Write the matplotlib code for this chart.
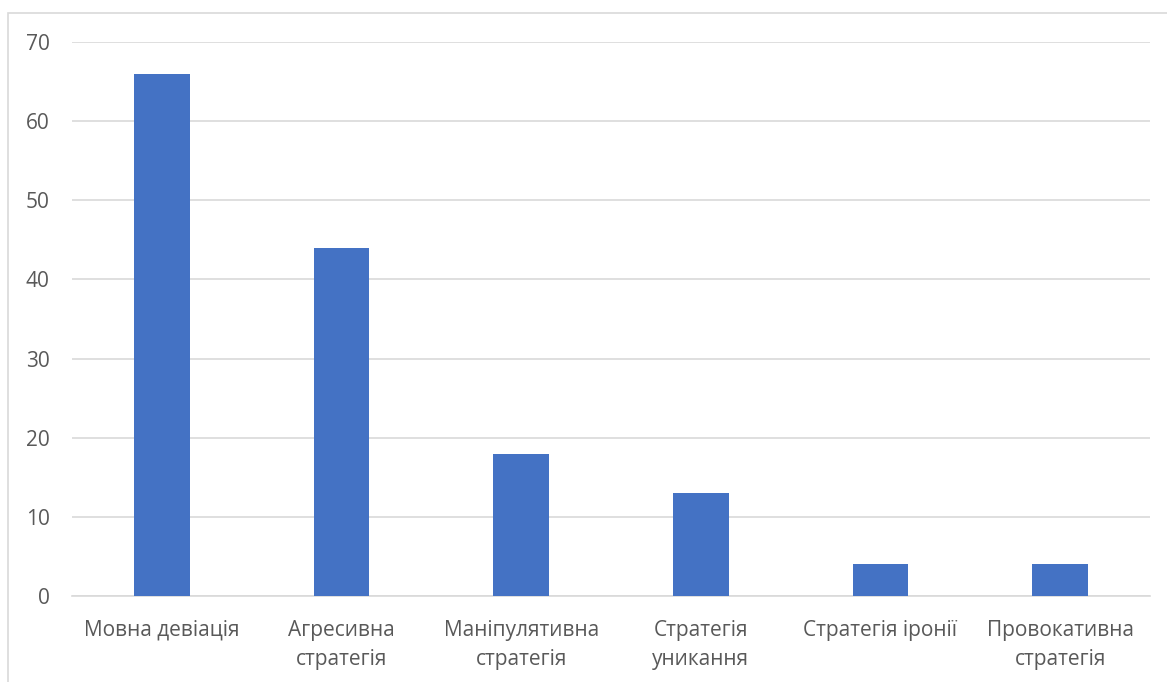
import matplotlib.pyplot as plt
from matplotlib.patches import Rectangle

# Дані
categories = ["Мовна девіація", "Агресивна\nстратегія", "Маніпулятивна\nстратегія",
              "Стратегія\nуникання", "Стратегія іронії", "Провокативна\nстратегія"]
values = [66, 44, 18, 13, 4, 4]
yticks = [0, 10, 20, 30, 40, 50, 60, 70]

plt.rcParams['font.family'] = ['Open Sans', 'DejaVu Sans']

fig = plt.figure(figsize=(11.67, 6.82), dpi=100)
ax = fig.add_axes([72 / 1167, 1 - 596 / 682, (1150 - 72) / 1167, (596 - 42) / 682])

# рамка області діаграми
fig.patches.append(Rectangle((8 / 1167, -0.1), 1.2, 1 - 13 / 682 + 0.1,
                             transform=fig.transFigure, fill=False,
                             edgecolor="#d9d9d9", linewidth=1.2))

x = range(len(categories))
ax.bar(x, values, width=0.31, color="#4472C4", zorder=3)

ax.set_xlim(-0.5, len(categories) - 0.5)
ax.set_ylim(0, 70)
ax.set_yticks(yticks)
ax.set_xticks(list(x))
ax.set_xticklabels(categories, fontsize=15, color="#595959", linespacing=1.5)
ax.tick_params(axis="y", labelsize=15, labelcolor="#595959", length=0, pad=16)
ax.tick_params(axis="x", length=0, pad=17)
ax.grid(axis="y", color="#d9d9d9", linewidth=1.2, zorder=0)
for s in ["top", "right", "left"]:
    ax.spines[s].set_visible(False)
ax.spines["bottom"].set_color("#d9d9d9")
ax.spines["bottom"].set_linewidth(1.2)

fig.savefig("out.png", dpi=100)
